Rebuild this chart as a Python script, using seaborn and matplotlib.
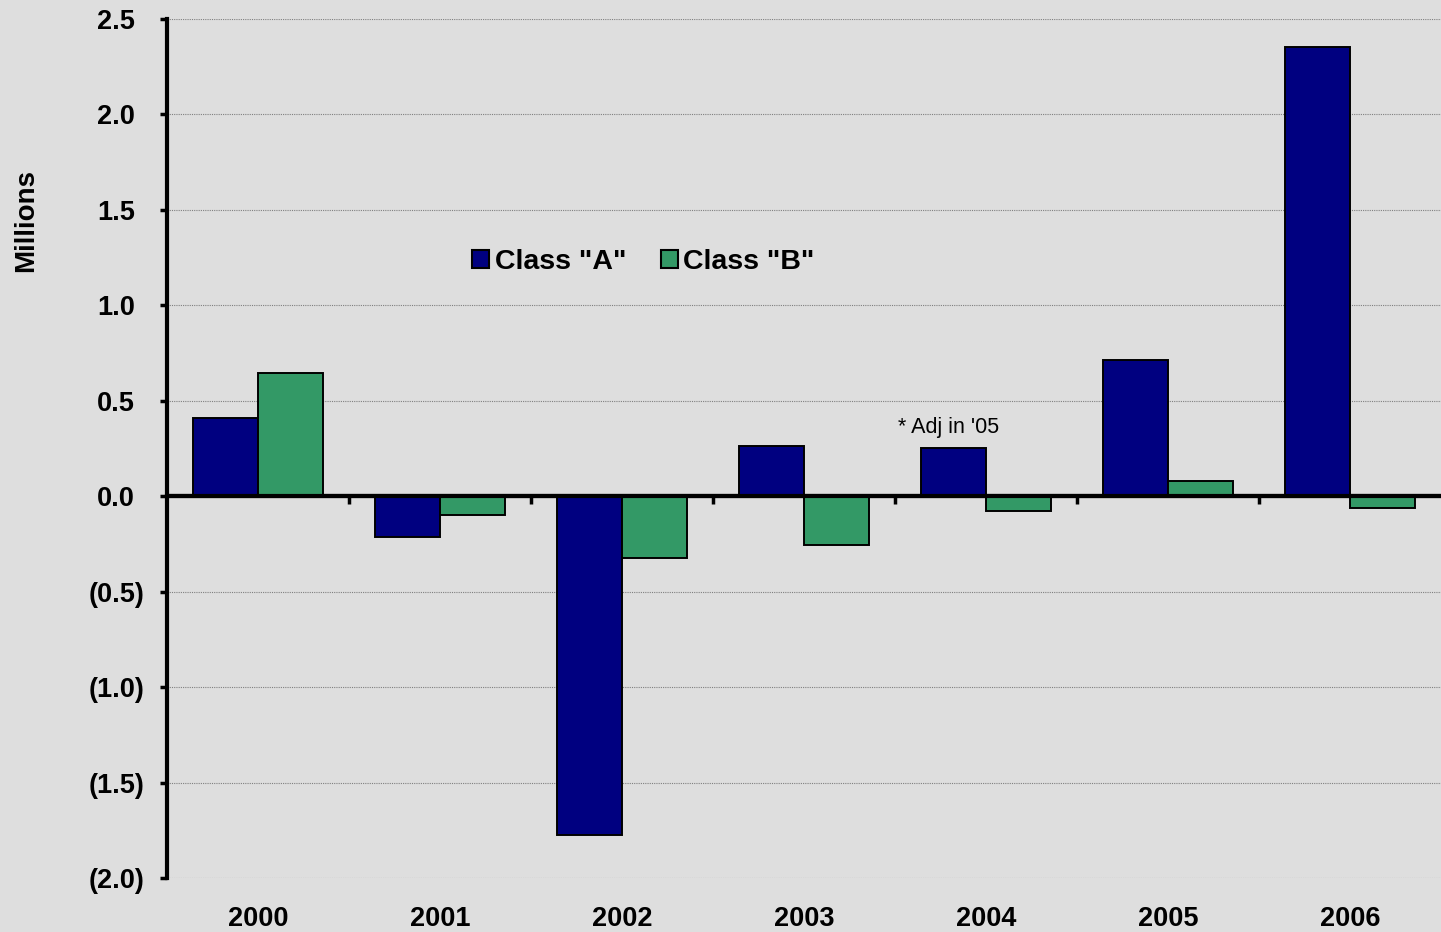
import matplotlib
matplotlib.use("Agg")
import matplotlib.pyplot as plt
import seaborn as sns
import pandas as pd

years = ["2000", "2001", "2002", "2003", "2004", "2005", "2006"]
class_a = [0.41, -0.215, -1.777, 0.262, 0.252, 0.713, 2.353]
class_b = [0.645, -0.10, -0.325, -0.257, -0.079, 0.079, -0.063]
series_names = ['Class "A"', 'Class "B"']
ytick_vals = [2.5, 2.0, 1.5, 1.0, 0.5, 0.0, -0.5, -1.0, -1.5, -2.0]
ytick_labels = ["2.5", "2.0", "1.5", "1.0", "0.5", "0.0", "(0.5)", "(1.0)", "(1.5)", "(2.0)"]
note_text = "* Adj in '05"

df = pd.DataFrame({
    "Year": years * 2,
    "Value": class_a + class_b,
    "Series": [series_names[0]] * len(years) + [series_names[1]] * len(years),
})

sns.set_theme(style="white")
plt.rcParams["font.family"] = ["Liberation Sans", "DejaVu Sans"]
plt.rcParams["text.color"] = "black"
plt.rcParams["axes.labelcolor"] = "black"
plt.rcParams["xtick.color"] = "black"
plt.rcParams["ytick.color"] = "black"

bg = "#dedede"
fig = plt.figure(figsize=(14.41, 9.32), dpi=100, facecolor=bg)
ax = fig.add_axes([167 / 1441, 1 - 878 / 932, 1 - 167 / 1441, (878 - 19) / 932])
ax.set_facecolor(bg)

sns.barplot(data=df, x="Year", y="Value", hue="Series", order=years,
            hue_order=series_names, palette=["#000080", "#339966"],
            width=0.714, edgecolor="black", linewidth=1.4, ax=ax,
            saturation=1, errorbar=None, zorder=3)

ax.set_xlim(-0.5, 6.5)
ax.set_ylim(-2.0, 2.5)
ax.set_yticks(ytick_vals)
ax.set_yticklabels(ytick_labels, fontsize=19.5, fontweight="bold", ha="center", color="black")
ax.yaxis.grid(True, linestyle=(0, (1, 1)), color="#808080", linewidth=0.8, zorder=0)
ax.xaxis.grid(False)
ax.tick_params(axis="y", direction="out", length=5, width=2.5, color="black", pad=31.5, left=True)
ax.tick_params(axis="x", length=0, pad=20, labelcolor="black")
for lbl in ax.get_xticklabels():
    lbl.set_fontsize(19.5)
    lbl.set_fontweight("bold")
ax.set_xlabel("")
ax.set_ylabel("")
fig.text(26 / 1441, 1 - 220 / 932, "Millions", rotation=90, fontsize=20,
         fontweight="bold", ha="center", va="center", color="black")

for side in ["top", "right", "bottom"]:
    ax.spines[side].set_visible(False)
ax.spines["left"].set_linewidth(3)
ax.spines["left"].set_color("black")

# zero axis line with category-boundary ticks
sec = ax.secondary_xaxis(2.0 / 4.5)
sec.set_xticks([i + 0.5 for i in range(len(years) - 1)])
sec.set_xticklabels([])
sec.tick_params(axis="x", direction="out", length=6, width=2.5, color="black")
sec.spines["bottom"].set_linewidth(3)
sec.spines["bottom"].set_color("black")
ax.axhline(0, color="black", linewidth=3, zorder=4)

ax.text(3.515, 0.36, note_text, fontsize=15.5, ha="left", va="center", zorder=5, color="black")

leg = ax.legend(loc="center", bbox_to_anchor=(0.374, 0.717), ncol=2, frameon=False,
                handlelength=0.6, handleheight=0.6, handletextpad=0.2,
                columnspacing=1.2, prop={"weight": "bold", "size": 20.5})
for h in leg.legend_handles:
    h.set_edgecolor("black")
    h.set_linewidth(1.5)
for t in leg.get_texts():
    t.set_color("black")

fig.savefig("out.png", dpi=100, facecolor=bg)
